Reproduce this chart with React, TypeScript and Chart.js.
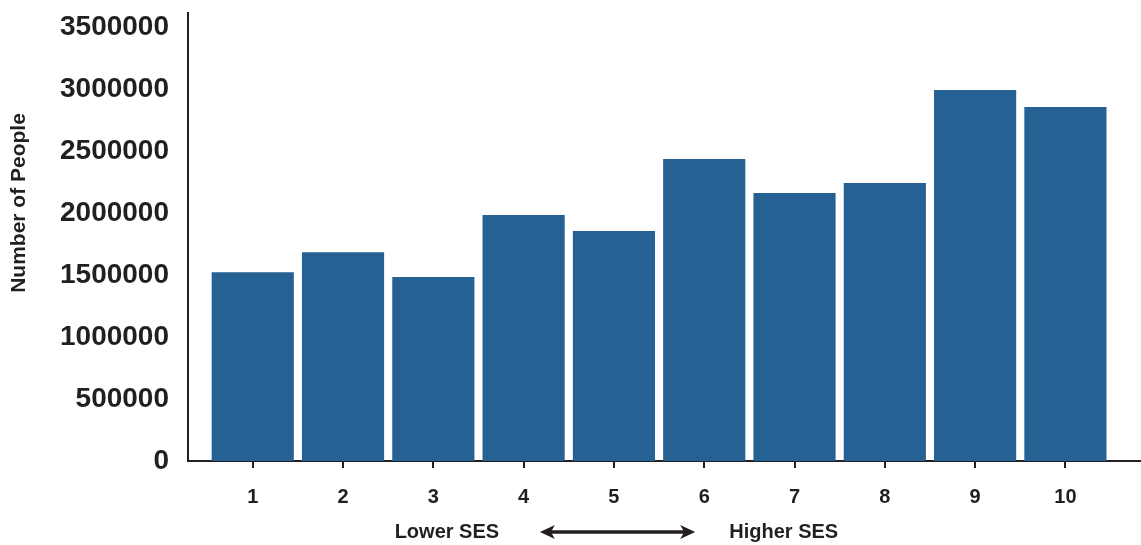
import React, { useEffect, useRef } from "react";
import { Chart, registerables } from "chart.js";

Chart.register(...registerables);

const categories = [1, 2, 3, 4, 5, 6, 7, 8, 9, 10];
const people = [1522000, 1683000, 1484000, 1984000, 1855000, 2435000, 2161000, 2242000, 2992000, 2855000];
const yTicks = [0, 500000, 1000000, 1500000, 2000000, 2500000, 3000000, 3500000];
const yTitle = "Number of People";
const lowLabel = "Lower SES";
const highLabel = "Higher SES";

const BAR = "#256193";
const INK = "#231f20";
const FONT = "'Liberation Sans', Arial, Helvetica, sans-serif";

const annotations = {
  id: "sesAnnotations",
  afterDraw(chart: any) {
    const ctx = chart.ctx;
    const x = chart.scales.x;
    ctx.save();
    ctx.fillStyle = INK;
    ctx.strokeStyle = INK;
    // y-axis title
    ctx.font = `bold 21px ${FONT}`;
    ctx.textAlign = "center";
    ctx.textBaseline = "middle";
    ctx.translate(19, 203);
    ctx.rotate(-Math.PI / 2);
    ctx.fillText(yTitle, 0, 0);
    ctx.setTransform(1, 0, 0, 1, 0, 0);
    // SES labels
    const yy = 532;
    ctx.font = `bold 20px ${FONT}`;
    ctx.fillText(lowLabel, x.getPixelForValue(3.15), yy);
    ctx.fillText(highLabel, x.getPixelForValue(6.88), yy);
    // arrow
    const a = x.getPixelForValue(4.18);
    const b = x.getPixelForValue(5.9);
    ctx.lineWidth = 3.5;
    ctx.beginPath();
    ctx.moveTo(a + 8, yy);
    ctx.lineTo(b - 8, yy);
    ctx.stroke();
    ctx.beginPath();
    ctx.moveTo(a, yy);
    ctx.lineTo(a + 15, yy - 7);
    ctx.lineTo(a + 11, yy);
    ctx.lineTo(a + 15, yy + 7);
    ctx.closePath();
    ctx.fill();
    ctx.beginPath();
    ctx.moveTo(b, yy);
    ctx.lineTo(b - 15, yy - 7);
    ctx.lineTo(b - 11, yy);
    ctx.lineTo(b - 15, yy + 7);
    ctx.closePath();
    ctx.fill();
    ctx.restore();
  },
};

export default function App() {
  const ref = useRef<HTMLCanvasElement>(null);
  useEffect(() => {
    document.body.style.margin = "0";
    const chart = new Chart(ref.current!, {
      type: "bar",
      data: {
        datasets: [
          {
            data: categories.map((c, i) => ({ x: c, y: people[i] })),
            backgroundColor: BAR,
            borderWidth: 0,
            barPercentage: 0.91,
            categoryPercentage: 1,
          },
        ],
      },
      options: {
        animation: false,
        responsive: false,
        maintainAspectRatio: false,
        layout: { padding: { top: 13, right: 1, left: 0, bottom: 0 } },
        plugins: { legend: { display: false }, tooltip: { enabled: false } },
        scales: {
          x: {
            type: "linear",
            offset: false,
            min: 0.283,
            max: 10.826,
            afterBuildTicks: (s: any) => {
              s.ticks = categories.map((v) => ({ value: v }));
            },
            afterFit: (s: any) => {
              s.height = 84;
              s.paddingLeft = 0;
              s.paddingRight = 0;
            },
            border: { display: true, color: INK, width: 2 },
            grid: { display: true, offset: false, drawOnChartArea: false, drawTicks: true, tickLength: 7, color: INK, lineWidth: 2 },
            ticks: {
              color: INK,
              font: { family: FONT, size: 20, weight: "bold" },
              padding: 17,
              maxRotation: 0,
              autoSkip: false,
              callback: (v: any) => String(v),
            },
          },
          y: {
            min: 0,
            max: 3613000,
            afterBuildTicks: (s: any) => {
              s.ticks = yTicks.map((v) => ({ value: v }));
            },
            afterFit: (s: any) => {
              s.width = 188;
              s.paddingTop = 0;
              s.paddingBottom = 0;
            },
            border: { display: true, color: INK, width: 2 },
            grid: { display: false, drawTicks: false },
            ticks: {
              color: INK,
              font: { family: FONT, size: 28, weight: "bold" },
              padding: 19,
              callback: (v: any) => String(v),
            },
          },
        },
      },
      plugins: [annotations],
    } as any);
    return () => chart.destroy();
  }, []);
  return (
    <div style={{ width: 1141, height: 545 }}>
      <canvas ref={ref} width={1141} height={545} style={{ display: "block" }} />
    </div>
  );
}
